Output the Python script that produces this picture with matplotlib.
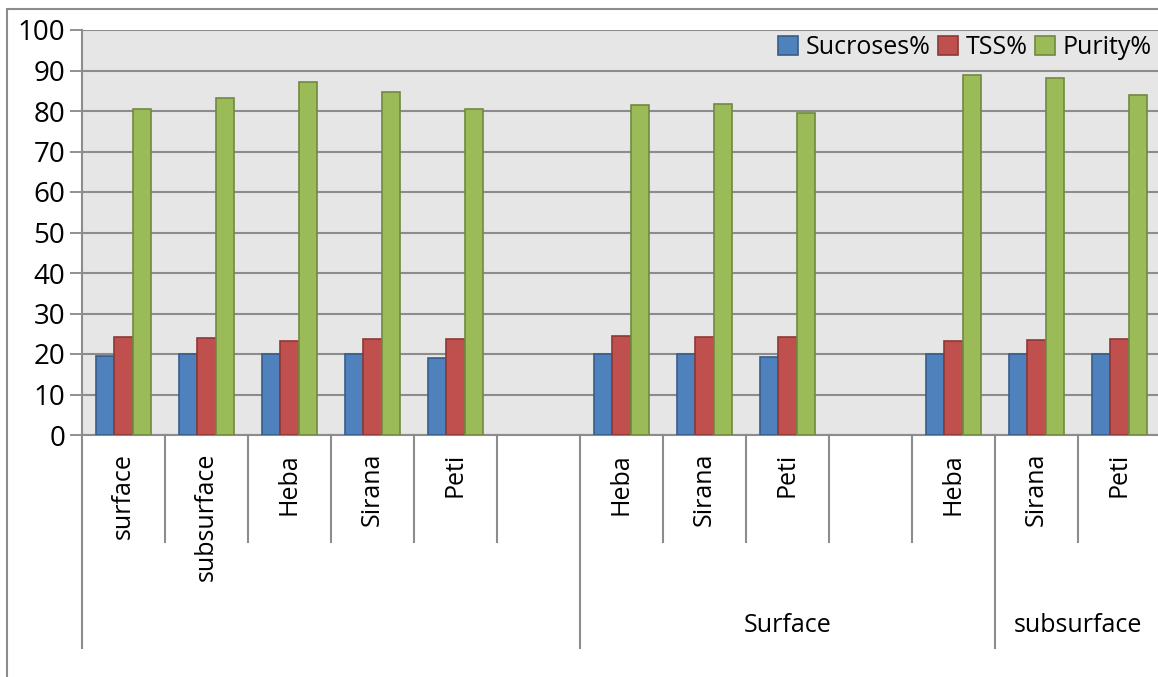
import matplotlib
matplotlib.use("Agg")
import matplotlib.pyplot as plt
from matplotlib.patches import Rectangle
import numpy as np

plt.rcParams['font.family'] = ['Open Sans', 'DejaVu Sans']

# 下段の品種名（空欄はスペース用）
varieties = ["surface", "subsurface", "Heba", "Sirana", "Peti", "",
             "Heba", "Sirana", "Peti", "",
             "Heba", "Sirana", "Peti"]
# 上段のグループ名と範囲（スロット番号）
groups = ["", "Surface", "subsurface"]
group_spans = [(0, 6), (6, 11), (11, 13)]

sucrose = [19.6, 20.1, 20.1, 19.9, 19.1, np.nan, 20.1, 19.9, 19.3, np.nan, 20.1, 20.1, 19.9]
tss = [24.1, 23.95, 23.1, 23.6, 23.6, np.nan, 24.5, 24.2, 24.2, np.nan, 23.2, 23.5, 23.7]
purity = [80.5, 83.3, 87.2, 84.7, 80.5, np.nan, 81.6, 81.8, 79.6, np.nan, 88.9, 88.1, 84.0]

series = [("Sucroses%", sucrose, "#4F81BD", "#385D8A"),
          ("TSS%", tss, "#C0504D", "#8C3836"),
          ("Purity%", purity, "#9BBB59", "#71893F")]

W, H = 1158, 677
fig = plt.figure(figsize=(W / 100, H / 100), dpi=100)
ax = fig.add_axes([82 / W, 1 - 435 / H, 1079 / W, 405 / H])
ax.set_facecolor("#E6E6E6")

x = np.arange(len(varieties))
bw = 0.224
for k, (name, vals, fc, ec) in enumerate(series):
    ax.bar(x + (k - 1) * bw, vals, bw, color=fc, edgecolor=ec, linewidth=1.2,
           label=name, zorder=3)

ax.set_xlim(-0.5, len(varieties) - 0.5)
ax.set_ylim(0, 100)
ax.set_yticks(range(0, 101, 10))
ax.tick_params(axis="y", labelsize=20, length=9, width=1.3, color="#888888", pad=3)
ax.set_xticks([])
ax.yaxis.grid(True, color="#8C8C8C", linewidth=1.5)
ax.set_axisbelow(True)
for s in ["top", "right"]:
    ax.spines[s].set_visible(False)
for s in ["left", "bottom"]:
    ax.spines[s].set_color("#8C8C8C")
    ax.spines[s].set_linewidth(1.5)

# 二段のカテゴリ軸
tr = ax.get_xaxis_transform()
ax_h = 405
long_edges = {g[0] - 0.5 for g in group_spans} | {group_spans[-1][1] - 0.5}
for e in np.arange(-0.5, len(varieties), 1.0):
    y_end = -213 / ax_h if e in long_edges else -107 / ax_h
    ax.plot([e, e], [0, y_end], transform=tr, color="#8C8C8C", lw=1.5, clip_on=False)

for i, name in enumerate(varieties):
    if name:
        ax.text(i, -18 / ax_h, name, transform=tr, rotation=90, ha="center", va="top",
                fontsize=18)

for name, (a, b) in zip(groups, group_spans):
    if name:
        ax.text((a + b - 1) / 2, -190 / ax_h, name, transform=tr, ha="center",
                va="center", fontsize=18)

ax.legend(loc="upper right", bbox_to_anchor=(0.996, 1.0), ncol=3, frameon=False,
          fontsize=18, handlelength=0.8, handleheight=0.8, handletextpad=0.3,
          columnspacing=0.3, borderaxespad=0.05, borderpad=0.15)

# 外枠
fig.patches.append(Rectangle((7 / W, -0.01), 1.1, 1 - 9 / H + 0.01,
                             transform=fig.transFigure, fill=False,
                             edgecolor="#8C8C8C", linewidth=1.5))

fig.savefig("out.png", dpi=100)
